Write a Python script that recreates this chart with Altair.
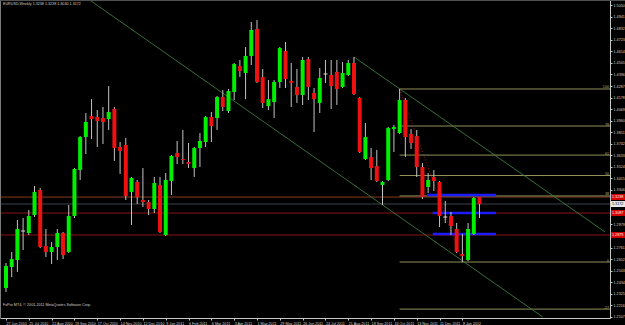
import altair as alt
import pandas as pd

# ---- weekly EURUSD candles (27 Jun 2010 .. 29 Jan 2012) ----
opens = [1.2378, 1.2577, 1.2643, 1.2917, 1.2898, 1.3068, 1.3305, 1.2775, 1.2719, 1.2766,
         1.2898, 1.2719, 1.3059, 1.3494, 1.3805, 1.4004, 1.3994, 1.3985, 1.3975, 1.4070,
         1.3711, 1.3730, 1.3286, 1.3380, 1.3210, 1.3191, 1.3125, 1.3352, 1.2879, 1.3390,
         1.3654, 1.3597, 1.3569, 1.3512, 1.3701, 1.3758, 1.3994, 1.3985, 1.4183, 1.4051,
         1.4231, 1.4476, 1.4410, 1.4571, 1.4826, 1.4372, 1.4098, 1.4136, 1.4325, 1.4618,
         1.4335, 1.4278, 1.4202, 1.4542, 1.4221, 1.4127, 1.4401, 1.4391, 1.4420, 1.4278,
         1.4391, 1.4505, 1.4174, 1.3597, 1.3616, 1.3531, 1.3352, 1.3399, 1.3881, 1.3843,
         1.4155, 1.3834, 1.3815, 1.3522, 1.3333, 1.3427, 1.3380, 1.3049, 1.3059, 1.2936,
         1.2700, 1.2643, 1.2889, 1.3238]
highs = [1.2615, 1.2719, 1.3021, 1.3040, 1.3116, 1.3342, 1.3323, 1.2936, 1.2813, 1.2936,
         1.2908, 1.3163, 1.3512, 1.3815, 1.4032, 1.4164, 1.4061, 1.4089, 1.4287, 1.4089,
         1.3758, 1.3796, 1.3427, 1.3399, 1.3512, 1.3210, 1.3427, 1.3427, 1.3465, 1.3635,
         1.3768, 1.3872, 1.3749, 1.3711, 1.3843, 1.4004, 1.4042, 1.4193, 1.4250, 1.4259,
         1.4505, 1.4533, 1.4656, 1.4892, 1.4911, 1.4448, 1.4344, 1.4344, 1.4656, 1.4703,
         1.4505, 1.4448, 1.4561, 1.4561, 1.4268, 1.4457, 1.4533, 1.4533, 1.4533, 1.4514,
         1.4533, 1.4561, 1.4183, 1.3938, 1.3701, 1.3683, 1.3390, 1.3900, 1.3919, 1.4259,
         1.4174, 1.3881, 1.3872, 1.3560, 1.3465, 1.3494, 1.3390, 1.3201, 1.3097, 1.2993,
         1.2889, 1.2993, 1.3238, 1.3238]
lows = [1.2341, 1.2482, 1.2530, 1.2738, 1.2879, 1.3049, 1.2756, 1.2671, 1.2605, 1.2643,
        1.2652, 1.2709, 1.3040, 1.3399, 1.3645, 1.3786, 1.3711, 1.3739, 1.3872, 1.3579,
        1.3456, 1.3210, 1.2974, 1.3172, 1.3144, 1.3068, 1.3087, 1.2898, 1.2870, 1.3257,
        1.3550, 1.3550, 1.3512, 1.3427, 1.3522, 1.3711, 1.3758, 1.3872, 1.4051, 1.4032,
        1.4155, 1.4372, 1.4164, 1.4486, 1.4316, 1.4079, 1.4061, 1.3985, 1.4268, 1.4268,
        1.4089, 1.4127, 1.4108, 1.4155, 1.3853, 1.4032, 1.4316, 1.4070, 1.4108, 1.4268,
        1.4382, 1.4202, 1.3654, 1.3588, 1.3399, 1.3380, 1.3163, 1.3390, 1.3664, 1.3834,
        1.3616, 1.3692, 1.3427, 1.3219, 1.3276, 1.3295, 1.2955, 1.2993, 1.2879, 1.2709,
        1.2624, 1.2634, 1.2879, 1.3040]
closes = [1.2586, 1.2652, 1.2936, 1.2917, 1.3059, 1.3286, 1.2766, 1.2719, 1.2766, 1.2898,
          1.2690, 1.3059, 1.3503, 1.3805, 1.3947, 1.3975, 1.3957, 1.3947, 1.4042, 1.3701,
          1.3673, 1.3248, 1.3418, 1.3238, 1.3191, 1.3125, 1.3371, 1.2908, 1.3399, 1.3626,
          1.3616, 1.3588, 1.3550, 1.3701, 1.3768, 1.3994, 1.3909, 1.4183, 1.4089, 1.4240,
          1.4495, 1.4429, 1.4571, 1.4817, 1.4325, 1.4127, 1.4164, 1.4325, 1.4646, 1.4353,
          1.4316, 1.4202, 1.4533, 1.4278, 1.4164, 1.4363, 1.4401, 1.4287, 1.4259, 1.4410,
          1.4505, 1.4212, 1.3664, 1.3805, 1.3512, 1.3390, 1.3380, 1.3890, 1.3900, 1.4155,
          1.3805, 1.3749, 1.3522, 1.3238, 1.3399, 1.3390, 1.3059, 1.3049, 1.2964, 1.2719,
          1.2681, 1.2936, 1.3229, 1.3172]

date_idx = [0, 4, 8, 12, 16, 20, 24, 28, 32, 36, 40, 44, 48, 52, 56, 60, 64, 68, 72, 76, 80]
date_labels = ["27 Jun 2010", "25 Jul 2010", "22 Aug 2010", "19 Sep 2010", "17 Oct 2010",
               "14 Nov 2010", "12 Dec 2010", "9 Jan 2011", "6 Feb 2011", "6 Mar 2011",
               "3 Apr 2011", "1 May 2011", "29 May 2011", "26 Jun 2011", "24 Jul 2011",
               "21 Aug 2011", "18 Sep 2011", "16 Oct 2011", "13 Nov 2011", "11 Dec 2011",
               "8 Jan 2012"]
# price scale labels (those hidden behind the level boxes are left out)
price_ticks = [1.5050, 1.4941, 1.4832, 1.4723, 1.4614, 1.4505, 1.4396, 1.4287, 1.4178,
               1.4069, 1.3960, 1.3851, 1.3742, 1.3633, 1.3524, 1.3415, 1.3306,
               1.2979, 1.2761, 1.2652, 1.2543, 1.2434, 1.2325, 1.2216, 1.2107]

# horizontal levels across the chart
hline_prices = [1.3238, 1.3172, 1.3087, 1.2879]
hline_colors = ["#8a3c1e", "#3c4450", "#8b1414", "#8b1414"]
box_fill = ["#d40000", "#e8e8e8", "#d40000", "#d40000"]
box_text = ["#ffffff", "#000000", "#ffffff", "#ffffff"]

# fibonacci retracement (from week 69 high to week 80 low)
fib_start = 69
fib_high = 1.4259
fib_low = 1.2624
fib_ratios = [1.0, 0.786, 0.618, 0.5, 0.382, 0.0, -0.272]
fib_names = ["100", "78", "61", "50", "38", "0", "-27"]

# channel lines (index, price)
chan_id = ["A", "A", "B", "B"]
chan_i = [14.66, 94.1, 61.0, 105.0]
chan_p = [1.5100, 1.2104, 1.4561, 1.2908]

# dotted trend line of the fib tool
trend_i = [69, 80]
trend_p = [1.4259, 1.2624]

# blue level segments
blue_p = [1.3257, 1.3087, 1.2889]
blue_a = [73.8, 74.8, 74.8]
blue_b = [85.9, 85.9, 85.9]

# ---------------------------------------------------------------------------
W, H = 610, 318
FONT = "Liberation Sans"
FS = 3.7
TXT = "#d0d0d0"

xs = alt.Scale(domain=[-0.1724, 105.0], nice=False, zero=False)
ys = alt.Scale(domain=[1.2095, 1.5100], nice=False, zero=False)

label_expr = "[" + ",".join("'" + s + "'" for s in date_labels) + "][round(datum.value/4)]"
xaxis = alt.Axis(orient="bottom", values=date_idx, labelExpr=label_expr, title=None,
                 grid=False, domainColor="#c8c8c8", tickColor="#c8c8c8", tickSize=2,
                 labelColor=TXT, labelFont=FONT, labelFontSize=FS, labelAlign="left",
                 labelBaseline="top", labelPadding=1, labelOverlap=False,
                 labelFlush=False, labelBound=False, domainWidth=1)
yaxis = alt.Axis(orient="right", values=price_ticks, format=".4f", title=None,
                 grid=False, domainColor="#c8c8c8", tickColor="#c8c8c8", tickSize=2,
                 labelColor=TXT, labelFont=FONT, labelFontSize=FS, labelAlign="left",
                 labelBaseline="middle", labelPadding=1, labelOverlap=False,
                 labelFlush=False, labelBound=False, domainWidth=1)

df = pd.DataFrame({"i": list(range(len(opens))), "open": opens, "high": highs,
                   "low": lows, "close": closes})

hl_df = pd.DataFrame({"p": hline_prices, "c": hline_colors, "bf": box_fill,
                      "bt": box_text})
fib_df = pd.DataFrame({"r": fib_ratios, "name": fib_names})
chan_df = pd.DataFrame({"id": chan_id, "i": chan_i, "p": chan_p})
trend_df = pd.DataFrame({"i": trend_i, "p": trend_p})
blue_df = pd.DataFrame({"p": blue_p, "a": blue_a, "b": blue_b})


def X(field):
    return alt.X(field, scale=xs, axis=xaxis)


def Y(field):
    return alt.Y(field, scale=ys, axis=yaxis)


hlines = alt.Chart(hl_df).mark_rule(strokeWidth=1).encode(
    y=Y("p:Q"), x=alt.value(0), x2=alt.value(W),
    color=alt.Color("c:N", scale=None))

fib_base = alt.Chart(fib_df).transform_calculate(
    price=f"{fib_low} + datum.r * ({fib_high} - {fib_low})",
    s=f"{fib_start}")
fib_lines = fib_base.mark_rule(color="#8f8f5c", strokeWidth=1).encode(
    x=X("s:Q"), x2=alt.value(W), y=Y("price:Q"))
fib_text = fib_base.mark_text(align="right", baseline="bottom", font=FONT,
                              fontSize=FS, color="#b0b070", dx=-1, dy=0.5).encode(
    x=alt.value(W), y=Y("price:Q"), text="name:N")

chan = alt.Chart(chan_df).mark_line(clip=True, color="#3d7a3d", strokeWidth=0.9).encode(
    x=X("i:Q"), y=Y("p:Q"), detail="id:N")

trend = alt.Chart(trend_df).mark_line(clip=True, color="#b01818", strokeWidth=1,
                                      strokeDash=[1, 2]).encode(
    x=X("i:Q"), y=Y("p:Q"))

blue = alt.Chart(blue_df).mark_rule(color="#1c1cff", strokeWidth=2.5).encode(
    x=X("a:Q"), x2="b:Q", y=Y("p:Q"))

wicks = alt.Chart(df).mark_rule(color="#c4c4c4", strokeWidth=1).encode(
    x=X("i:Q"), y=Y("low:Q"), y2="high:Q")

bodies = alt.Chart(df).transform_calculate(
    kind="datum.close > datum.open ? 'up' : (datum.close < datum.open ? 'down' : 'flat')",
    top="datum.close == datum.open ? datum.open + 0.0005 : max(datum.open, datum.close)",
    bot="datum.close == datum.open ? datum.open - 0.0005 : min(datum.open, datum.close)",
).mark_bar(size=4).encode(
    x=X("i:Q"), y=Y("top:Q"), y2="bot:Q",
    color=alt.Color("kind:N", scale=alt.Scale(domain=["up", "down", "flat"],
                                              range=["#00ee00", "#ee1111", "#d0d0d0"]),
                    legend=None))

boxes = alt.Chart(hl_df).mark_rule(strokeWidth=6, strokeCap="butt").encode(
    x=alt.value(W + 1), x2=alt.value(W + 15), y=Y("p:Q"),
    color=alt.Color("bf:N", scale=None))
box_labels = alt.Chart(hl_df).mark_text(align="left", baseline="middle", font=FONT,
                                        fontSize=FS).encode(
    x=alt.value(W + 2), y=Y("p:Q"),
    text=alt.Text("p:Q", format=".4f"), color=alt.Color("bt:N", scale=None))

title_str = "EURUSD,Weekly  {:.4f} {:.4f} {:.4f} {:.4f}".format(
    opens[-1], highs[-1], lows[-1], closes[-1])
title = alt.Chart(pd.DataFrame({"t": [title_str]})).mark_text(
    align="left", baseline="top", font=FONT, fontSize=FS, color=TXT).encode(
    x=alt.value(3), y=alt.value(2), text="t:N")
copyright_txt = alt.Chart(pd.DataFrame(
    {"t": ["FxPro MT4, \u00a9 2001-2011 MetaQuotes Software Corp."]})).mark_text(
    align="left", baseline="middle", font=FONT, fontSize=FS, color=TXT).encode(
    x=alt.value(3), y=alt.value(305), text="t:N")

frame = alt.Chart(pd.DataFrame({"k": [0]})).mark_rule(color="#7a7a7a").encode(
    x=alt.value(0.5), y=alt.value(0), y2=alt.value(H))
top_frame = alt.Chart(pd.DataFrame({"k": [0]})).mark_rule(color="#505050").encode(
    y=alt.value(0.5), x=alt.value(0), x2=alt.value(W + 15))

chart = alt.layer(
    hlines, fib_lines, chan, trend, blue, wicks, bodies, fib_text,
    boxes, box_labels, title, copyright_txt, frame, top_frame
).properties(
    width=W, height=H,
    padding={"left": 0, "top": 0, "right": 15, "bottom": 7},
    autosize=alt.AutoSizeParams(type="none"),
).configure(background="#000000").configure_view(stroke=None, fill="#000000")

chart.save("out.html", embed_options={"renderer": "svg", "actions": False})
